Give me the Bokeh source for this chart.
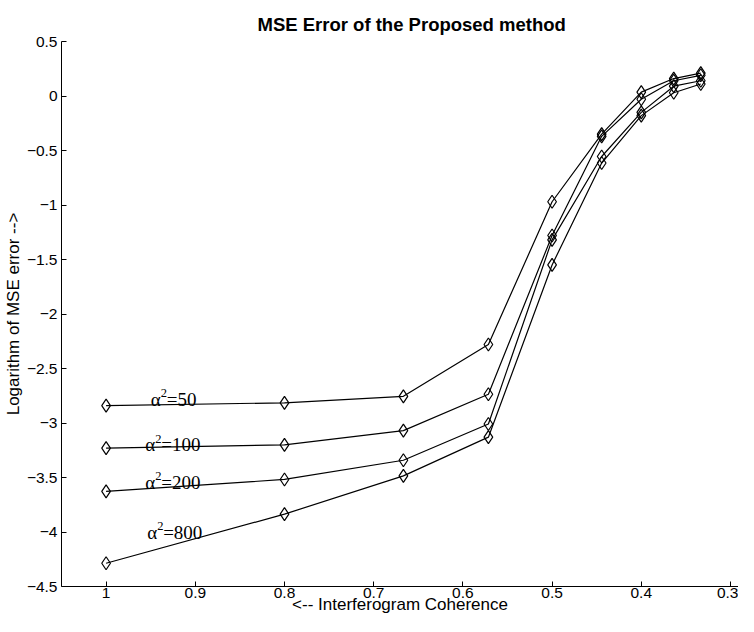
from bokeh.plotting import figure
from bokeh.models import Range1d, FixedTicker, Title
from bokeh.core.properties import value
from bokeh.embed import file_html
from bokeh.resources import INLINE

# ---- data ----
coherence = [1.0, 0.8, 0.6667, 0.5714, 0.5, 0.4444, 0.4, 0.3636, 0.3333]
mse_a50 = [-2.84, -2.815, -2.755, -2.28, -0.97, -0.35, 0.036, 0.16, 0.21]
mse_a100 = [-3.23, -3.20, -3.07, -2.736, -1.28, -0.37, -0.03, 0.14, 0.19]
mse_a200 = [-3.627, -3.518, -3.342, -3.009, -1.32, -0.555, -0.15, 0.09, 0.14]
mse_a800 = [-4.287, -3.836, -3.485, -3.13, -1.55, -0.615, -0.18, 0.03, 0.11]

label_base = ["\u03b1", "\u03b1", "\u03b1", "\u03b1"]
label_sup = ["2", "2", "2", "2"]
label_rest = ["=50", "=100", "=200", "=800"]
label_x = [0.950, 0.956, 0.956, 0.954]
label_y = [-2.78, -3.20, -3.545, -4.00]

x_ticks = [1, 0.9, 0.8, 0.7, 0.6, 0.5, 0.4, 0.3]
x_tick_labels = ["1", "0.9", "0.8", "0.7", "0.6", "0.5", "0.4", "0.3"]
y_ticks = [0.5, 0, -0.5, -1, -1.5, -2, -2.5, -3, -3.5, -4, -4.5]
y_tick_labels = ["0.5", "0", "\u22120.5", "\u22121", "\u22121.5", "\u22122", "\u22122.5",
                 "\u22123", "\u22123.5", "\u22124", "\u22124.5"]

p = figure(width=738, height=616, output_backend="svg", toolbar_location=None,
           title=None,
           x_range=Range1d(1.050, 0.291), y_range=Range1d(-4.5, 0.5),
           min_border_left=56, min_border_right=0, min_border_top=33, min_border_bottom=30)

main_title = Title(text="MSE Error of the Proposed method", text_font="Liberation Sans",
                   text_font_size="18.5px", text_font_style="bold", text_color="black",
                   align="left", offset=196, standoff=13)
spacer = Title(text=" ", text_font_size="2.5px", standoff=0)
p.add_layout(main_title, "above")
p.add_layout(spacer, "above")

p.outline_line_color = None
p.xgrid.visible = False
p.ygrid.visible = False
p.background_fill_color = "white"
p.border_fill_color = "white"

for ax in (p.xaxis[0], p.yaxis[0]):
    ax.major_tick_in = 5
    ax.major_tick_out = 0
    ax.minor_tick_in = 0
    ax.minor_tick_out = 0
    ax.axis_line_color = "black"
    ax.major_tick_line_color = "black"
    ax.major_label_text_font = "Liberation Sans"
    ax.major_label_text_font_size = "15.5px"
    ax.major_label_text_color = "black"
    ax.axis_label_text_font = "Liberation Sans"
    ax.axis_label_text_font_size = "17px"
    ax.axis_label_text_font_style = "normal"
    ax.axis_label_text_color = "black"

p.xaxis.ticker = FixedTicker(ticks=x_ticks)
p.xaxis.major_label_overrides = {t: l for t, l in zip(x_ticks, x_tick_labels)}
p.yaxis.ticker = FixedTicker(ticks=y_ticks)
p.yaxis.major_label_overrides = {t: l for t, l in zip(y_ticks, y_tick_labels)}
p.xaxis.axis_label = "<-- Interferogram Coherence"
p.yaxis.axis_label = "Logarithm of MSE error -->"
p.xaxis.major_label_standoff = 1
p.xaxis.axis_label_standoff = -6
p.yaxis.major_label_standoff = 4
p.yaxis.axis_label_standoff = 1

for series in (mse_a50, mse_a100, mse_a200, mse_a800):
    p.line(coherence, series, line_color="black", line_width=1.2)
    p.scatter(coherence, series, marker="diamond", size=13, fill_color=None,
              line_color="black", line_width=1.2)

serif = value("Liberation Serif")
p.text(x=label_x, y=label_y, text=label_base, text_font=serif,
       text_font_size="19px", text_align="left", text_baseline="alphabetic",
       text_color="black")
p.text(x=label_x, y=label_y, text=label_sup, text_font=serif,
       text_font_size="12.5px", text_align="left", text_baseline="alphabetic",
       text_color="black", x_offset=10, y_offset=-6)
p.text(x=label_x, y=label_y, text=label_rest, text_font=serif,
       text_font_size="19px", text_align="left", text_baseline="alphabetic",
       text_color="black", x_offset=16)

open("out.html", "w").write(file_html(p, INLINE))
